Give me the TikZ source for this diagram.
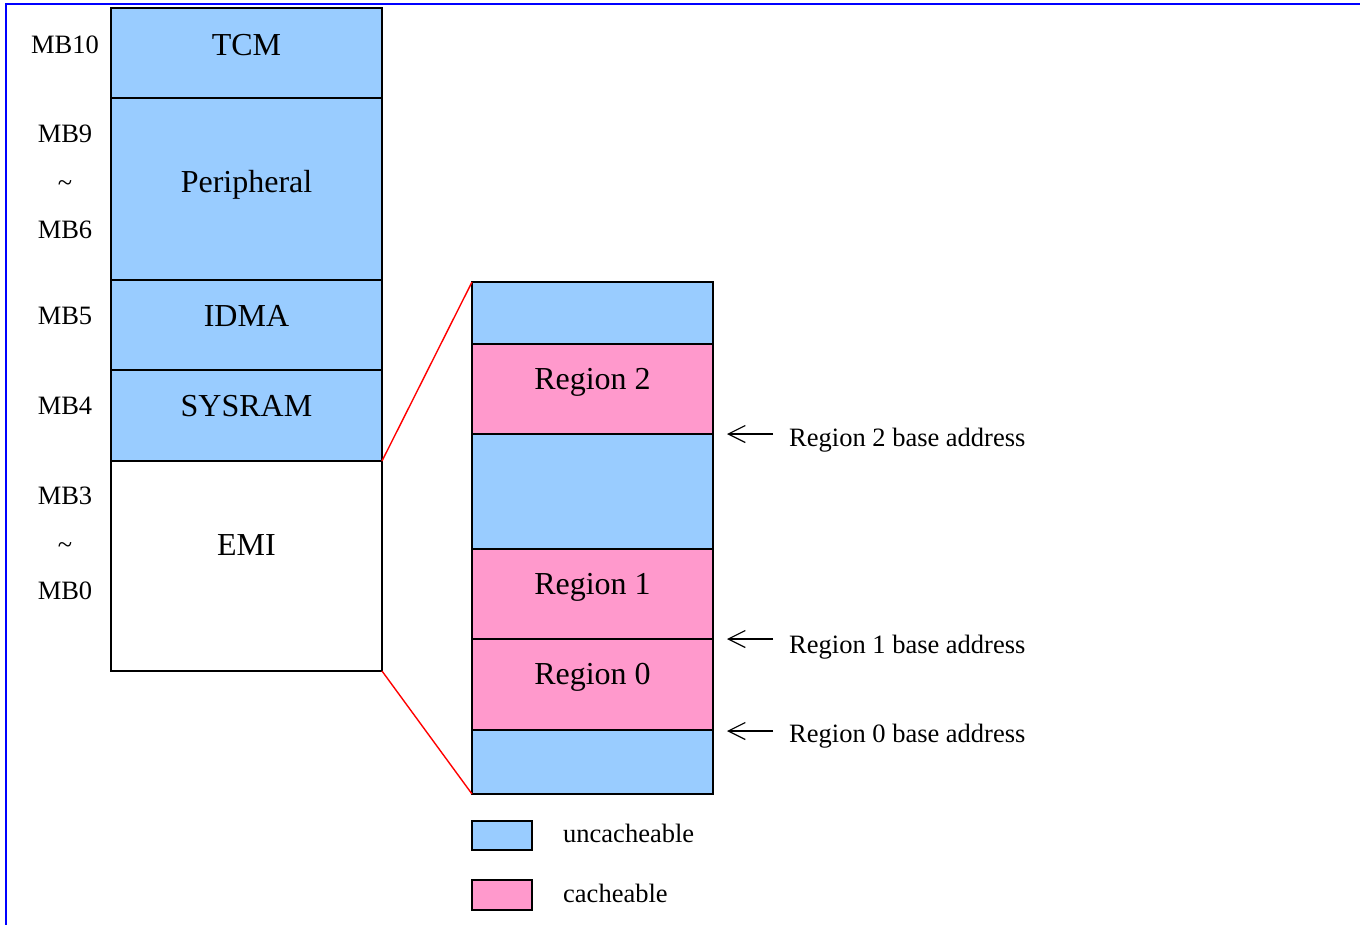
\documentclass[tikz,border=0pt]{standalone}
\usepackage{fontspec}
\setmainfont{Liberation Serif}
\usetikzlibrary{arrows.meta}
\definecolor{ublue}{HTML}{99CCFF}
\definecolor{cpink}{HTML}{FF99CC}
\tikzset{
  blk/.style={draw=black, line width=1.6pt, inner sep=0pt, outer sep=0pt},
  ublk/.style={blk, fill=ublue},
  cblk/.style={blk, fill=cpink},
  bigtxt/.style={font=\fontsize{32}{36}\selectfont, anchor=base, inner sep=0pt},
  smalltxt/.style={font=\fontsize{26.5}{30}\selectfont, anchor=base, inner sep=0pt},
  zoomline/.style={red, line width=1.4pt},
  ptr/.style={line width=1.2pt, -{Straight Barb[length=17pt,width=17pt,line width=1.2pt]}},
  frameline/.style={blue, line width=2pt}
}
\begin{document}
\begin{tikzpicture}[x=1pt, y=-1pt]
\useasboundingbox (0,0) rectangle (1360,924);
\draw[frameline] (6,930) -- (6,4) -- (1370,4);

% left memory map
\node[ublk, minimum width=271pt, minimum height=90pt] (tcm) at (246.5,53) {};
\node[ublk, minimum width=271pt, minimum height=182pt] (per) at (246.5,189) {};
\node[ublk, minimum width=271pt, minimum height=90pt] (idma) at (246.5,325) {};
\node[ublk, minimum width=271pt, minimum height=91pt] (sys) at (246.5,415.5) {};
\node[blk, fill=white, minimum width=271pt, minimum height=210pt] (emi) at (246.5,566) {};

\node[bigtxt] (tcmt) at (246.5,55) {TCM};
\node[bigtxt] (pert) at (246.5,192) {Peripheral};
\node[bigtxt] (idmat) at (246.5,326) {IDMA};
\node[bigtxt] (syst) at (246.5,416) {SYSRAM};
\node[bigtxt] (emit) at (246.5,555) {EMI};

% MB labels
\node[smalltxt] (mb10) at (65,53) {MB10};
\node[smalltxt] (mb9) at (65,142) {MB9};
\node[smalltxt] (t1) at (65,191) {\textasciitilde};
\node[smalltxt] (mb6) at (65,238) {MB6};
\node[smalltxt] (mb5) at (65,324) {MB5};
\node[smalltxt] (mb4) at (65,414) {MB4};
\node[smalltxt] (mb3) at (65,504) {MB3};
\node[smalltxt] (t2) at (65,553) {\textasciitilde};
\node[smalltxt] (mb0) at (65,599) {MB0};

% right detail column
\node[ublk, minimum width=241pt, minimum height=62pt] (rtop) at (592.5,313) {};
\node[cblk, minimum width=241pt, minimum height=90pt] (reg2) at (592.5,389) {};
\node[ublk, minimum width=241pt, minimum height=115pt] (rmid) at (592.5,491.5) {};
\node[cblk, minimum width=241pt, minimum height=90pt] (reg1) at (592.5,594) {};
\node[cblk, minimum width=241pt, minimum height=91pt] (reg0) at (592.5,684.5) {};
\node[ublk, minimum width=241pt, minimum height=64pt] (rbot) at (592.5,762) {};

\node[bigtxt] (reg2t) at (592.5,389) {Region 2};
\node[bigtxt] (reg1t) at (592.5,594) {Region 1};
\node[bigtxt] (reg0t) at (592.5,684) {Region 0};

% zoom lines
\draw[zoomline] (sys.south east) -- (rtop.north west);
\draw[zoomline] (emi.south east) -- (rbot.south west);

% base address pointers
\coordinate (a2s) at (773,434);
\coordinate (a2e) at (727,434);
\coordinate (a1s) at (773,639);
\coordinate (a1e) at (727,639);
\coordinate (a0s) at (773,731);
\coordinate (a0e) at (727,731);
\draw[ptr] (a2s) -- (a2e);
\draw[ptr] (a1s) -- (a1e);
\draw[ptr] (a0s) -- (a0e);
\node[smalltxt, anchor=base west] (l2) at (789,446) {Region 2 base address};
\node[smalltxt, anchor=base west] (l1) at (789,653) {Region 1 base address};
\node[smalltxt, anchor=base west] (l0) at (789,742) {Region 0 base address};

% legend
\node[ublk, minimum width=60pt, minimum height=29pt] (legu) at (502,835.5) {};
\node[cblk, minimum width=60pt, minimum height=30pt] (legc) at (502,895) {};
\node[smalltxt, anchor=base west] (legut) at (563,842) {uncacheable};
\node[smalltxt, anchor=base west] (legct) at (563,902) {cacheable};
\end{tikzpicture}
\end{document}
